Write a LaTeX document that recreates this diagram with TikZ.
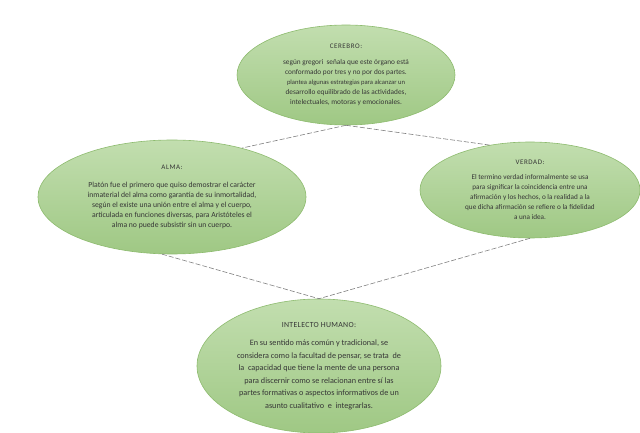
\documentclass[tikz,border=0pt]{standalone}
\usepackage{fontspec}
\setmainfont{Carlito}
\usetikzlibrary{shapes.geometric}
\definecolor{txt}{HTML}{363636}
\definecolor{ltop}{HTML}{C2DEAF}
\definecolor{lbot}{HTML}{9FC884}
\definecolor{ledge}{HTML}{8DBB6E}
\definecolor{conn}{HTML}{808080}
\tikzset{
  bubble/.style={ellipse, draw=ledge, line width=0.6pt, top color=ltop, bottom color=lbot,
     inner sep=0pt, align=center, text=txt},
  link/.style={draw=conn, line width=0.6pt, dash pattern=on 5pt off 2pt}
}
\newcommand{\ttlsmall}[1]{{\fontsize{7}{8}\selectfont\addfontfeature{LetterSpace=8}#1}}
\begin{document}
\begin{tikzpicture}[x=1pt,y=-1pt]
\useasboundingbox (0,0) rectangle (640,433);
\node[bubble, minimum width=218pt, minimum height=100pt,
      font=\fontsize{7.3}{10}\selectfont] (cerebro) at (346,75)
 {\ttlsmall{CEREBRO:}\\[5.7pt]
  según gregori\ \ señala que este órgano está\\
  conformado por tres y no por dos partes.\\
  {\fontsize{6.6}{10}\selectfont plantea algunas estrategias para alcanzar un}\\
  desarrollo equilibrado de las actividades,\\
  intelectuales, motoras y emocionales.};
\node[bubble, minimum width=268pt, minimum height=114pt,
      font=\fontsize{7.7}{10}\selectfont] (alma) at (172,197)
 {\ttlsmall{ALMA:}\\[8.6pt]
  Platón fue el primero que quiso demostrar el carácter\\
  inmaterial del alma como garantía de su inmortalidad,\\
  según el existe una unión entre el alma y el cuerpo,\\
  articulada en funciones diversas, para Aristóteles el\\
  alma no puede subsistir sin un cuerpo.};
\node[bubble, minimum width=220pt, minimum height=96pt,
      font=\fontsize{7.2}{10}\selectfont] (verdad) at (530,190)
 {\ttlsmall{VERDAD:}\\[5.2pt]
  El termino verdad informalmente se usa\\
  para significar la coincidencia entre una\\
  afirmación y los hechos, o la realidad a la\\
  que dicha afirmación se refiere o la fidelidad\\
  a una idea.};
\node[bubble, minimum width=244pt, minimum height=134pt,
      font=\fontsize{8.2}{12.5}\selectfont] (intelecto) at (319,366)
 {{\fontsize{7.8}{9}\selectfont\addfontfeature{LetterSpace=4}INTELECTO HUMANO:}\\[5.4pt]
  En su sentido más común y tradicional, se\\
  considera como la facultad de pensar, se trata\ \ de\\
  la\ \ capacidad que tiene la mente de una persona\\
  para discernir como se relacionan entre sí las\\
  partes formativas o aspectos informativos de un\\
  asunto cualitativo\ \ e\ \ integrarlas.};
\draw[link] (cerebro.south) -- (alma.35);
\draw[link] (cerebro.south) -- (verdad.132);
\draw[link] (alma.260) -- (intelecto.north);
\draw[link] (verdad.south) -- (intelecto.north);
\end{tikzpicture}
\end{document}
